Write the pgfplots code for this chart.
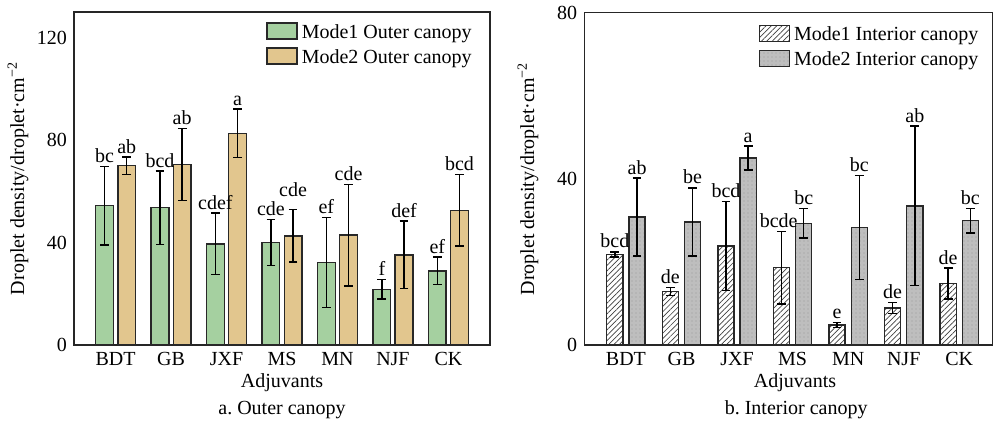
\documentclass[border=0pt]{standalone}
\usepackage{pgfplots}
\pgfplotsset{compat=1.18}
\usepackage{pgfplotstable}
\usepackage{fontspec}
\setmainfont{Liberation Serif}
\usetikzlibrary{patterns.meta}
\definecolor{mgreen}{RGB}{165,208,160}
\definecolor{mtan}{RGB}{226,198,142}
\definecolor{mgray}{RGB}{190,190,190}
\definecolor{edge}{RGB}{40,40,40}
\frenchspacing

\pgfplotstableread{
xa xb m1 e1 m2 e2
-0.2 0.2 54.4 15.3 70.0 3.4
0.8 1.2 53.6 14.3 70.5 14.0
1.8 2.2 39.5 12.0 82.6 9.5
2.8 3.2 40.0 9.0 42.6 10.2
3.8 4.2 32.2 17.5 42.9 19.8
4.8 5.2 21.7 3.8 35.2 13.2
5.8 6.2 28.9 5.4 52.6 13.9
}\outerdata

\pgfplotstableread{
x y lab
-0.2 69.8 bc
0.2 73.2 ab
0.8 67.9 bcd
1.2 84.5 ab
1.8 51.5 cdef
2.2 92.1 a
2.8 49.0 cde
3.2 56.5 cde
3.8 49.7 ef
4.2 62.7 cde
4.8 25.5 f
5.2 48.4 def
5.8 34.3 ef
6.2 66.5 bcd
}\outerlab

\pgfplotstableread{
xa xb m1 e1 m2 e2
-0.2 0.2 21.8 0.6 30.8 9.4
0.8 1.2 12.9 1.0 29.6 8.2
1.8 2.2 23.8 10.7 45.0 2.9
2.8 3.2 18.6 8.7 29.3 3.5
3.8 4.2 4.8 0.55 28.3 12.5
4.8 5.2 8.9 1.3 33.5 19.2
5.8 6.2 14.8 3.7 29.9 2.9
}\innerdata

\pgfplotstableread{
x y lab
-0.2 22.4 bcd
0.2 40.2 ab
0.8 13.9 de
1.2 37.8 be
1.8 34.5 bcd
2.2 47.9 a
2.75 27.3 bcde
3.2 32.8 bc
3.8 5.35 e
4.2 40.8 bc
4.8 10.2 de
5.2 52.7 ab
5.8 18.5 de
6.2 32.8 bc
}\innerlab

\newcommand{\tf}{\fontsize{10}{12}\selectfont}

\pgfplotsset{
  common/.style={
    scale only axis, clip=false,
    xmin=-0.75, ymin=0,
    xtick={0,...,6}, xticklabels={BDT,GB,JXF,MS,MN,NJF,CK},
    major tick length=0pt,
    tick label style={font=\tf},
    label style={font=\tf},
    /pgf/number format/assume math mode=true,
    axis line style={line width=0.6pt, black!85},
    ylabel={Droplet density/droplet·cm\textsuperscript{−2}},
    xlabel={Adjuvants},
    legend style={draw=none, fill=none, font=\tf, cells={anchor=west},
      row sep=0pt, inner sep=0pt},
  },
  mybar/.style={ybar, bar width=#1, bar shift=0pt, draw=edge, line width=0.7pt,
    error bars/y dir=both, error bars/y explicit,
    every error bar/.append style={line width=0.7pt, black, solid},
    error bars/error mark options={rotate=90, mark size=2.2pt, line width=0.7pt, black},
    legend image code/.code={\draw[##1] (0pt,-3pt) rectangle (15pt,5pt);}},
  labs/.style={only marks, mark=text, text mark={},
    nodes near coords, point meta=explicit symbolic,
    nodes near coords style={anchor=base, inner sep=0pt, yshift=2pt, font=\tf}, forget plot},
}

\begin{document}
\begin{tikzpicture}
\path[use as bounding box] (0,0) rectangle (496.5pt,210.5pt);

\begin{axis}[common,
  at={(37pt,38pt)}, anchor=south west,
  width=208pt, height=166.5pt,
  xmax=6.75, ymax=130,
  ytick={0,40,80,120},
  ylabel style={at={(axis description cs:-0.1346,0.5)}, anchor=center},
  xlabel style={at={(axis description cs:0.5,-0.1145)}, anchor=center},
  legend style={at={(0.4615,0.975)}, anchor=north west},
]
\addplot[mybar=0.32, fill=mgreen] table[x=xa, y=m1, y error=e1] {\outerdata};
\addplot[mybar=0.32, fill=mtan] table[x=xb, y=m2, y error=e2] {\outerdata};
\addplot[labs] table[x=x, y=y, meta=lab] {\outerlab};
\legend{Mode1 Outer canopy, Mode2 Outer canopy}
\node[font=\tf] at (axis description cs:0.5,-0.196) {a. Outer canopy};
\end{axis}

\begin{axis}[common,
  at={(292.15pt,38pt)}, anchor=south west,
  width=204.35pt, height=166.15pt,
  xmax=6.607, ymax=80,
  ytick={0,40,80},
  ylabel style={at={(axis description cs:-0.1378,0.5)}, anchor=center},
  xlabel style={at={(axis description cs:0.5155,-0.1145)}, anchor=center},
  legend style={at={(0.4257,0.97)}, anchor=north west},
]
\addplot[mybar=0.29, fill=white,
  postaction={pattern={Lines[angle=45, distance=1.9pt, line width=0.35pt]}, pattern color=black!75}]
  table[x=xa, y=m1, y error=e1] {\innerdata};
\addplot[mybar=0.29, fill=mgray,
  postaction={pattern={Dots[distance=2pt, radius=0.3pt]}, pattern color=black!40}]
  table[x=xb, y=m2, y error=e2] {\innerdata};
\addplot[labs] table[x=x, y=y, meta=lab] {\innerlab};
\legend{Mode1 Interior canopy, Mode2 Interior canopy}
\node[font=\tf] at (axis description cs:0.5185,-0.196) {b. Interior canopy};
\end{axis}
\end{tikzpicture}
\end{document}
